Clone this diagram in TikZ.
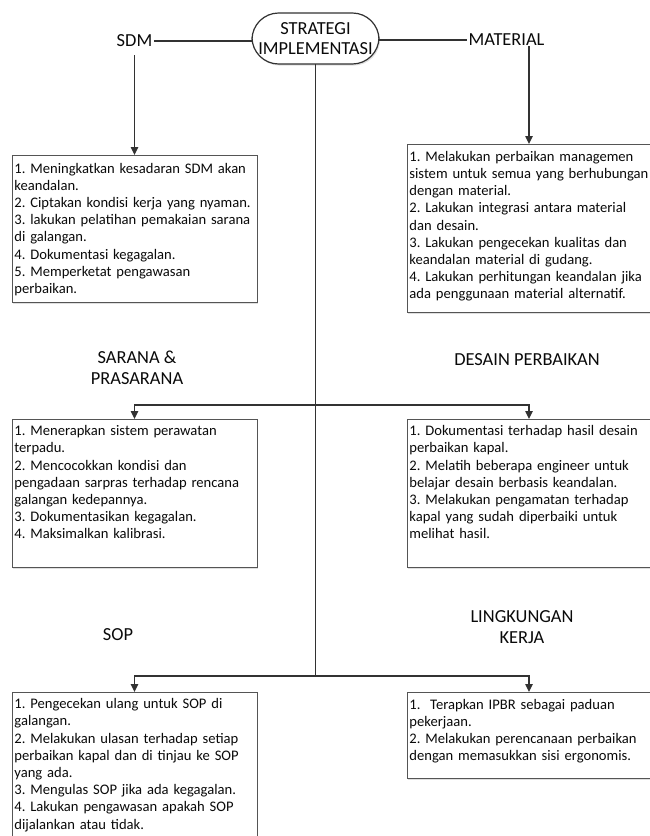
\documentclass[tikz,border=0pt]{standalone}
\usepackage{fontspec}
\setmainfont{Carlito}
\usetikzlibrary{arrows.meta,shadows}
\definecolor{linecol}{RGB}{50,50,50}
\definecolor{boxcol}{RGB}{85,85,85}
\definecolor{txtcol}{RGB}{10,10,10}
\frenchspacing
\tikzset{
  x=0.75pt, y=-0.75pt,
  conn/.style={draw=linecol, line width=1.05pt},
  arr/.style={conn, -{Triangle[length=6pt,width=5.5pt]}},
  listbox/.style={draw=boxcol, line width=0.75pt, fill=white, anchor=north west, inner sep=0pt, outer sep=0pt,
    drop shadow={shadow xshift=0.9pt, shadow yshift=-1.2pt, opacity=0.25, fill=gray}},
  boxtext/.style={anchor=base west, inner sep=0pt, text width=200pt, align=left, text=txtcol,
    font=\fontsize{10.95pt}{12.9pt}\selectfont},
  head/.style={align=center, inner sep=0pt, text=txtcol, font=\fontsize{13.8pt}{15.5pt}\selectfont},
}
\begin{document}
\begin{tikzpicture}
\useasboundingbox (0,0) rectangle (650,836);

% central node
\node[draw=linecol, line width=0.9pt, fill=white, rounded corners=20pt, minimum width=95.25pt, minimum height=38.25pt,
  inner sep=0pt, outer sep=0pt, head, drop shadow={shadow xshift=0.9pt, shadow yshift=-1.2pt, opacity=0.25, fill=gray}]
  (central) at (315.5,38.5) {STRATEGI\\IMPLEMENTASI};

% headers
\node[head, inner xsep=1pt] (sdm) at (134.5,41) {SDM};
\node[head, inner xsep=1pt] (material) at (506.5,40) {MATERIAL};
\node[head] (sarana) at (137,367.5) {SARANA \&\\PRASARANA};
\node[head] (desain) at (527,360) {DESAIN PERBAIKAN};
\node[head] (sop) at (118,635) {SOP};
\node[head] (lingk) at (522,627) {LINGKUNGAN\\KERJA};

% boxes
\node[listbox, minimum width=183.75pt, minimum height=110.25pt] (sdmbox) at (12,155) {};
\node[listbox, minimum width=183pt, minimum height=126pt] (matbox) at (407,144) {};
\node[listbox, minimum width=183.75pt, minimum height=111pt] (sarbox) at (12,419) {};
\node[listbox, minimum width=183pt, minimum height=111pt] (desbox) at (407,419) {};
\node[listbox, minimum width=183.75pt, minimum height=111pt] (sopbox) at (12,692) {};
\node[listbox, minimum width=183pt, minimum height=64.5pt] (linbox) at (407,692) {};

% box texts
\node[boxtext] (sdmtxt) at ([xshift=1.6pt,yshift=-13.5pt]sdmbox.north west) {1. Meningkatkan kesadaran SDM akan\\keandalan.\\2. Ciptakan kondisi kerja yang nyaman.\\3. lakukan pelatihan pemakaian sarana\\di galangan.\\4. Dokumentasi kegagalan.\\5. Memperketat pengawasan\\perbaikan.};
\node[boxtext] (mattxt) at ([xshift=1.6pt,yshift=-13pt]matbox.north west) {1. Melakukan perbaikan managemen\\sistem untuk semua yang berhubungan\\dengan material.\\2. Lakukan integrasi antara material\\dan desain.\\3. Lakukan pengecekan kualitas dan\\keandalan material di gudang.\\4. Lakukan perhitungan keandalan jika\\ada penggunaan material alternatif.};
\node[boxtext] (sartxt) at ([xshift=1.6pt,yshift=-12.5pt]sarbox.north west) {1. Menerapkan sistem perawatan\\terpadu.\\2. Mencocokkan kondisi dan\\pengadaan sarpras terhadap rencana\\galangan kedepannya.\\3. Dokumentasikan kegagalan.\\4. Maksimalkan kalibrasi.};
\node[boxtext] (destxt) at ([xshift=1.6pt,yshift=-12.5pt]desbox.north west) {1. Dokumentasi terhadap hasil desain\\perbaikan kapal.\\2. Melatih beberapa engineer untuk\\belajar desain berbasis keandalan.\\3. Melakukan pengamatan terhadap\\kapal yang sudah diperbaiki untuk\\melihat hasil.};
\node[boxtext] (soptxt) at ([xshift=1.6pt,yshift=-12.5pt]sopbox.north west) {1. Pengecekan ulang untuk SOP di\\galangan.\\2. Melakukan ulasan terhadap setiap\\perbaikan kapal dan di tinjau ke SOP\\yang ada.\\3. Mengulas SOP jika ada kegagalan.\\4. Lakukan pengawasan apakah SOP\\dijalankan atau tidak.};
\node[boxtext] (lintxt) at ([xshift=1.6pt,yshift=-13pt]linbox.north west) {1.\ \ Terapkan IPBR sebagai paduan\\pekerjaan.\\2. Melakukan perencanaan perbaikan\\dengan memasukkan sisi ergonomis.};

% connectors
\draw[conn] (sdm.east) -- (sdm.east -| central.west);
\draw[conn] (central.east |- material.west) -- (material.west);
\draw[arr, shorten <=6pt] (sdm.south) -- (sdmbox.north -| sdm.south);
\draw[arr] (material.south -| matbox.north) -- (matbox.north);
\coordinate (j1) at (central.south |- 0,405);
\coordinate (j2) at (central.south |- 0,676);
\draw[conn] (central.south) -- (j2);
\draw[arr] (j1) -| (sarbox.north);
\draw[arr] (j1) -| (desbox.north);
\draw[arr] (j2) -| (sopbox.north);
\draw[arr] (j2) -| (linbox.north);
\end{tikzpicture}
\end{document}
